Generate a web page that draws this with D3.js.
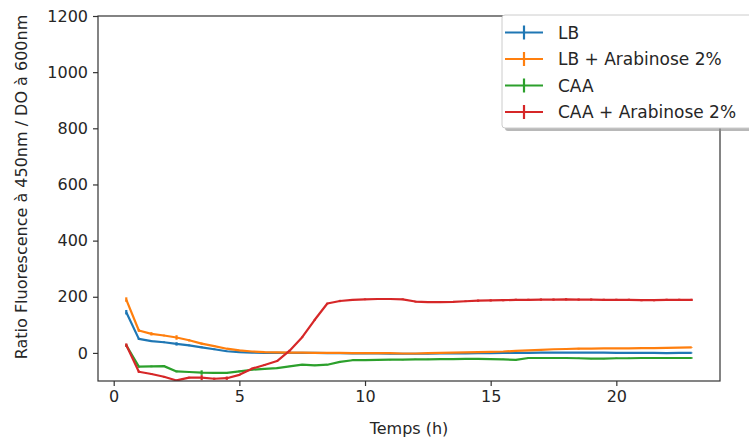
<!DOCTYPE html>
<html><head><meta charset="utf-8">
<script src="https://cdn.jsdelivr.net/npm/d3@7/dist/d3.min.js"></script>
<style>body{margin:0;background:#fff}svg{display:block}text{font-family:"DejaVu Sans",sans-serif;fill:#262626}</style>
</head><body>
<script>
const times = [0.5,1,1.5,2,2.5,3,3.5,4,4.5,5,5.5,6,6.5,7,7.5,8,8.5,9,9.5,10,10.5,11,11.5,12,12.5,13,13.5,14,14.5,15,15.5,16,16.5,17,17.5,18,18.5,19,19.5,20,20.5,21,21.5,22,22.5,23];
const seriesNames = ["LB","LB + Arabinose 2%","CAA","CAA + Arabinose 2%"];
const seriesColors = ["#1f77b4","#ff7f0e","#2ca02c","#d62728"];
const lbValues = [145,50,42,38,32,27,20,13,6,3,1,0,0,0,0,0,-1,-1,-2,-2,-2,-3,-3,-3,-3,-2,-2,-2,-1,-1,0,0,0,1,1,1,1,1,1,0,0,0,0,-1,0,0];
const lbAraValues = [190,80,68,62,55,45,33,24,15,9,5,3,2,1,1,0,0,0,-1,-1,-1,-1,-2,-2,-1,0,1,2,3,4,5,7,9,11,13,14,15,15,16,16,16,17,17,18,19,20];
const caaValues = [27,-49,-48,-47,-66,-68,-70,-71,-71,-66,-60,-57,-54,-48,-42,-44,-42,-32,-26,-26,-25,-24,-24,-23,-23,-22,-22,-21,-21,-22,-23,-25,-18,-18,-18,-18,-19,-20,-20,-19,-19,-18,-18,-18,-18,-18];
const caaAraValues = [28,-67,-75,-85,-98,-88,-88,-92,-90,-78,-56,-43,-29,8,56,118,176,185,189,191,192,192,191,183,181,181,182,184,186,187,188,189,189,190,190,191,190,190,189,189,189,188,188,189,189,189];
const lbErr = [8,4,3,3,6,3,3,3,2,2,1,1,1,1,1,1,1,1,1,1,1,1,1,1,1,1,1,1,1,1,1,1,1,1,1,1,1,1,1,1,1,1,1,1,1,1];
const lbAraErr = [8,5,6,3,8,4,4,3,2,2,1,1,1,1,1,1,1,1,1,1,1,1,1,1,1,1,1,1,1,1,1,1,1,1,1,3,3,1,1,1,1,1,1,1,1,1];
const caaErr = [4,3,3,3,3,3,8,3,3,3,2,2,2,2,2,2,2,3,2,2,2,2,2,2,2,2,2,2,2,2,2,2,2,2,2,2,2,2,2,2,2,2,2,2,2,2];
const caaAraErr = [6,4,3,3,3,3,9,4,6,3,3,3,3,3,3,3,3,4,3,3,3,3,3,3,3,3,3,3,4,4,4,4,4,4,4,4,4,4,4,4,4,4,4,4,4,4];
const xTicks = [0,5,10,15,20];
const yTicks = [0,200,400,600,800,1000,1200];
const xLabel = "Temps (h)";
const yLabel = "Ratio Fluorescence à 450nm / DO à 600nm";

const allValues = [lbValues, lbAraValues, caaValues, caaAraValues];
const allErr = [lbErr, lbAraErr, caaErr, caaAraErr];

const W = 749, H = 441;
const L = 98, R = 720, T = 16, B = 381;
const svg = d3.select("body").append("svg").attr("width", W).attr("height", H);

const x = d3.scaleLinear().domain([-0.625, 24.125]).range([L, R]);
const y = d3.scaleLinear().domain([-100, 1200]).range([B, T]);

const clip = svg.append("clipPath").attr("id","clip").append("rect")
  .attr("x", L).attr("y", T).attr("width", R-L).attr("height", B-T);

const plot = svg.append("g").attr("clip-path","url(#clip)");
const line = d3.line().x((d,i)=>x(times[i])).y(d=>y(d));

allValues.forEach((vals, s) => {
  const g = plot.append("g");
  g.append("path").datum(vals).attr("d", line)
    .attr("fill","none").attr("stroke", seriesColors[s]).attr("stroke-width", 2.2)
    .attr("stroke-linejoin","round");
  g.selectAll("line.err").data(vals).enter().append("line")
    .attr("x1",(d,i)=>x(times[i])).attr("x2",(d,i)=>x(times[i]))
    .attr("y1",(d,i)=>y(d-allErr[s][i])).attr("y2",(d,i)=>y(d+allErr[s][i]))
    .attr("stroke", seriesColors[s]).attr("stroke-width", 2.2);
});

// axes
const xAxis = svg.append("g").attr("transform",`translate(0,${B})`)
  .call(d3.axisBottom(x).tickValues(xTicks).tickSize(5).tickPadding(5).tickFormat(d3.format("d")));
const yAxis = svg.append("g").attr("transform",`translate(${L},0)`)
  .call(d3.axisLeft(y).tickValues(yTicks).tickSize(5).tickPadding(5).tickFormat(d3.format("d")));
[xAxis, yAxis].forEach(a => {
  a.select(".domain").remove();
  a.selectAll(".tick line").attr("stroke","#333").attr("stroke-width",1.2);
  a.selectAll(".tick text").attr("font-size",16).attr("fill","#262626").attr("font-family","DejaVu Sans");
});
svg.append("rect").attr("x",L).attr("y",T).attr("width",R-L).attr("height",B-T)
  .attr("fill","none").attr("stroke","#333").attr("stroke-width",1.2);

svg.append("text").attr("x",(L+R)/2).attr("y",434).attr("text-anchor","middle")
  .attr("font-size",16).text(xLabel);
svg.append("text").attr("transform","translate(27,187) rotate(-90)").attr("text-anchor","middle")
  .attr("font-size",16).text(yLabel);

// legend
const lg = svg.append("g");
lg.append("rect").attr("x",505).attr("y",18).attr("width",260).attr("height",113).attr("rx",3)
  .attr("fill","#888").attr("opacity",0.6);
lg.append("rect").attr("x",502).attr("y",15).attr("width",260).attr("height",113).attr("rx",3)
  .attr("fill","#fff").attr("stroke","#ccc").attr("stroke-width",1);
const rowY = [32.5,59,85.5,112];
seriesNames.forEach((name, s) => {
  const yy = rowY[s];
  lg.append("line").attr("x1",505).attr("x2",543).attr("y1",yy).attr("y2",yy)
    .attr("stroke",seriesColors[s]).attr("stroke-width",2.2);
  lg.append("line").attr("x1",524).attr("x2",524).attr("y1",yy-7).attr("y2",yy+7)
    .attr("stroke",seriesColors[s]).attr("stroke-width",2.2);
  lg.append("text").attr("x",558).attr("y",yy).attr("dy","0.36em").attr("font-size",17).text(name);
});
</script>
</body></html>
